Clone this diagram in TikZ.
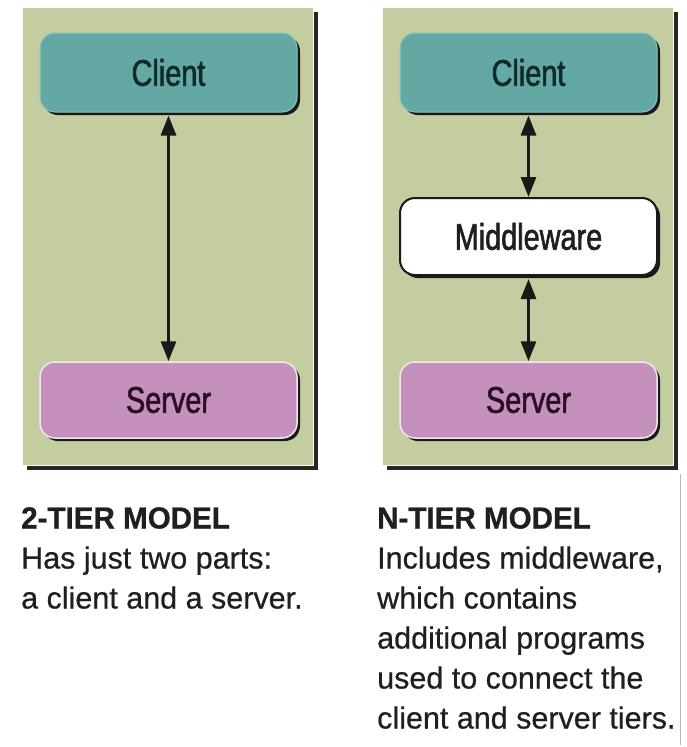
\documentclass[tikz,border=0pt]{standalone}
\usepackage{fontspec}
\setmainfont{Liberation Sans}[FakeBold=0.6]
\newfontfamily\boxfont{Liberation Sans}[FakeStretch=0.78, FakeBold=1.6]
\newfontfamily\headfont{Liberation Sans Bold}[FakeStretch=0.97, FakeBold=0.8]
\usetikzlibrary{arrows.meta,shadows}

\definecolor{panelgreen}{RGB}{195,205,160}
\definecolor{clientteal}{RGB}{100,168,164}
\definecolor{clientedge}{RGB}{140,196,192}
\definecolor{serverpink}{RGB}{196,144,188}
\definecolor{serveredge}{RGB}{244,230,240}
\definecolor{clienttext}{RGB}{14,42,44}
\definecolor{servertext}{RGB}{42,14,36}

\begin{document}
\begin{tikzpicture}[x=1pt,y=-1pt,
  panel/.style={fill=panelgreen, draw=white!92!panelgreen, line width=1.2pt,
    inner sep=0pt, minimum width=291pt, minimum height=458pt, anchor=north west,
    general shadow={fill=black!85, draw=none, shadow xshift=4pt, shadow yshift=-4pt}},
  tier/.style={rounded corners=15pt, minimum width=257pt, inner sep=0pt,
    general shadow={fill=black!90, draw=none, shadow xshift=3pt, shadow yshift=-3pt},
    font=\boxfont\fontsize{37}{44}\selectfont},
  clientbox/.style={tier, fill=clientteal, draw=clientedge, line width=1pt,
    minimum height=79pt, text=clienttext},
  serverbox/.style={tier, fill=serverpink, draw=serveredge, line width=1.5pt,
    minimum height=76pt, text=servertext},
  middlebox/.style={tier, fill=white, draw=black!90, line width=2pt,
    minimum height=77pt, text=black!88},
  link/.style={{Triangle[width=15pt,length=20pt]}-{Triangle[width=15pt,length=20pt]},
    line width=3pt, draw=black!90},
  desc/.style={align=left, inner sep=0pt, anchor=north west,
    font=\fontsize{30.5}{40}\selectfont, text=black!88}]

\useasboundingbox (0,0) rectangle (686,747);

% background panels
\node[panel] (leftpanel) at (22,7) {};
\node[panel] (rightpanel) at (382,7) {};

% two-tier model
\node[clientbox] (lclient) at (168.5,72.5) {Client};
\node[serverbox] (lserver) at (168.5,400) {Server};
\draw[link] ([yshift=-3pt]lclient.south) -- (lserver.north);

% n-tier model
\node[clientbox] (rclient) at (528.5,72.5) {Client};
\node[middlebox] (rmiddle) at (528.5,236.5) {Middleware};
\node[serverbox] (rserver) at (528.5,400) {Server};
\draw[link] ([yshift=-3pt]rclient.south) -- (rmiddle.north);
\draw[link] ([yshift=-3pt]rmiddle.south) -- (rserver.north);

% captions
\node[desc] (lefttext) at (21,507)
  {{\headfont 2-TIER MODEL}\\Has just two parts:\\a client and a server.};
\node[desc] (righttext) at (377,507)
  {{\headfont N-TIER MODEL}\\Includes middleware,\\which contains\\additional programs\\used to connect the\\client and server tiers.};

% thin page rule at the right edge
\draw[gray!55, line width=1pt] (680,474) -- (680,745);
\end{tikzpicture}
\end{document}
